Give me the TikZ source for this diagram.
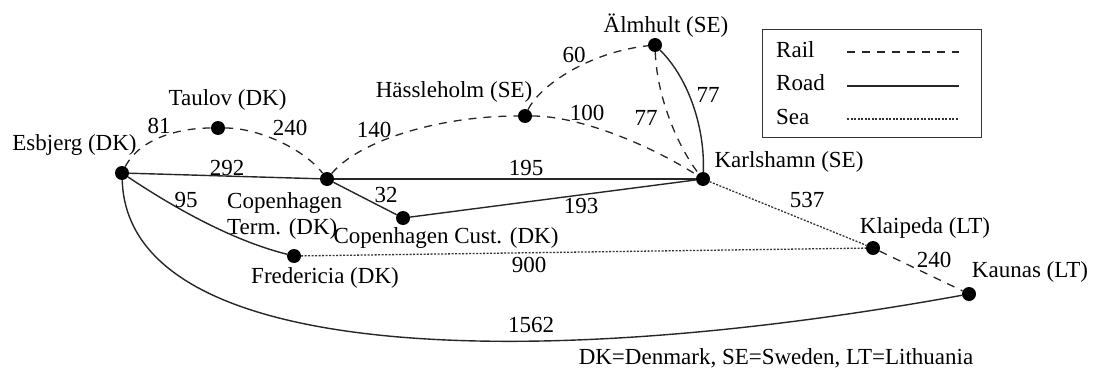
\documentclass[tikz,border=0pt]{standalone}
\usepackage{fontspec}
\setmainfont{Liberation Serif}
\begin{document}
\begin{tikzpicture}[x=1pt,y=-1pt,
  txt/.style={inner sep=0pt,anchor=base,font=\fontsize{23pt}{26pt}\selectfont},
  dot/.style={circle,fill=black,minimum size=14pt,inner sep=0pt},
  rail/.style={line width=1.3pt,dash pattern=on 8pt off 7pt,draw=black!85},
  road/.style={line width=1.4pt,draw=black!85},
  sea/.style={line width=1.3pt,dash pattern=on 2pt off 1.5pt,draw=black!80}]
\useasboundingbox (0,0) rectangle (1094,369);

% stations
\node[dot] (esb) at (122,173) {};
\node[dot] (tau) at (218,128) {};
\node[dot] (cpt) at (327,179) {};
\node[dot] (cpc) at (403,218) {};
\node[dot] (fre) at (294,256) {};
\node[dot] (has) at (525,116) {};
\node[dot] (alm) at (655,45) {};
\node[dot] (kar) at (703,179) {};
\node[dot] (kla) at (873,248) {};
\node[dot] (kau) at (969,294) {};

% station labels
\node[txt] (esbL) at (74.5,150) {Esbjerg (DK)};
\node[txt] (tauL) at (227.5,105) {Taulov (DK)};
\node[txt,anchor=base west,align=left] (cptL) at (227,234) {Copenhagen\\Term. (DK)};
\node[txt] (cpcL) at (446,243) {Copenhagen Cust. (DK)};
\node[txt] (freL) at (325,283) {Fredericia (DK)};
\node[txt] (hasL) at (454,97) {Hässleholm (SE)};
\node[txt] (almL) at (666,33) {Älmhult (SE)};
\node[txt] (karL) at (789,167) {Karlshamn (SE)};
\node[txt] (klaL) at (925,233) {Klaipeda (LT)};
\node[txt] (kauL) at (1030,277) {Kaunas (LT)};

% rail
\draw[rail] (esb) .. controls (140,138) and (180,128) .. (tau);
\draw[rail] (tau) .. controls (260,128) and (305,150) .. (cpt);
\draw[rail] (cpt) .. controls (360,140) and (440,116) .. (has);
\draw[rail] (has) .. controls (540,85) and (590,52) .. (alm);
\draw[rail] (has) .. controls (580,116) and (650,145) .. (kar);
\draw[rail] (alm) .. controls (657,100) and (680,150) .. (kar);
\draw[rail] (kla) -- (kau);

% road
\draw[road] (esb) -- (cpt);
\draw[road] (cpt) -- (kar);
\draw[road] (cpt) -- (cpc);
\draw[road] (cpc) -- (kar);
\draw[road] (alm) .. controls (690,80) and (705,130) .. (kar);
\draw[road] (esb) .. controls (170,205) and (230,240) .. (fre);
\draw[road] (esb) .. controls (128,365) and (540,372) .. (kau);

% sea
\draw[sea] (fre) -- (kla);
\draw[sea] (kar) -- (kla);

% distances
\node[txt] (d81) at (159,133) {81};
\node[txt] (d240a) at (290,135) {240};
\node[txt] (d292) at (227,175) {292};
\node[txt] (d32) at (386,202) {32};
\node[txt] (d95) at (186,207) {95};
\node[txt] (d140) at (374,137) {140};
\node[txt] (d60) at (574,63) {60};
\node[txt] (d100) at (587,120) {100};
\node[txt] (d77a) at (646,125) {77};
\node[txt] (d77b) at (708,102) {77};
\node[txt] (d195) at (526,175) {195};
\node[txt] (d193) at (581,213) {193};
\node[txt] (d537) at (807,207) {537};
\node[txt] (d900) at (529,272) {900};
\node[txt] (d240b) at (934,267) {240};
\node[txt] (d1562) at (531,332) {1562};

% legend
\node[draw=black!80,line width=1.2pt,minimum width=219pt,minimum height=108pt,anchor=north west,inner sep=0pt] (leg) at (762,29) {};
\node[txt,anchor=base west] (lRail) at (776,58) {Rail};
\node[txt,anchor=base west] (lRoad) at (776,90) {Road};
\node[txt,anchor=base west] (lSea) at (776,124) {Sea};
\coordinate (r1) at (847,52); \coordinate (r2) at (959,52);
\coordinate (o1) at (847,86); \coordinate (o2) at (959,86);
\coordinate (s1) at (847,119); \coordinate (s2) at (959,119);
\draw[rail] (r1) -- (r2);
\draw[road] (o1) -- (o2);
\draw[sea] (s1) -- (s2);

% footnote
\node[txt] (note) at (776,364) {DK=Denmark, SE=Sweden, LT=Lithuania};
\end{tikzpicture}
\end{document}
